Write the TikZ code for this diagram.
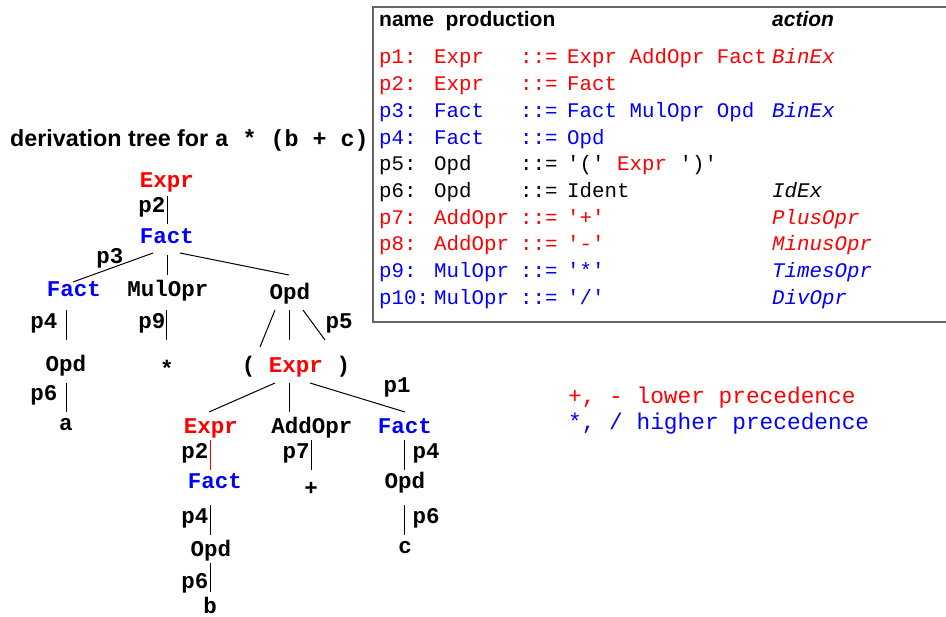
\documentclass[tikz,border=0pt]{standalone}
\usepackage{fontspec}
\setmainfont{Liberation Sans}
\setmonofont{Liberation Mono}
\begin{document}
\begin{tikzpicture}[x=1pt, y=-1pt,
    sym/.style={font=\fontsize{22.5}{24}\selectfont\ttfamily\bfseries, inner sep=0pt, text height=13pt, text depth=0pt},
    cell/.style={font=\fontsize{20.8}{22}\selectfont\ttfamily, inner sep=0pt, anchor=base west},
    head/.style={font=\fontsize{21}{23}\selectfont\bfseries, inner sep=0pt, anchor=base west},
    note/.style={font=\fontsize{22.8}{24}\selectfont\ttfamily, inner sep=0pt, anchor=base west},
    edge/.style={line width=1pt}]
    \useasboundingbox (0,0) rectangle (946,617);

    % Tabelle der Produktionen
    \draw[line width=1.3pt, black!60] (373,7) rectangle (952,322);
    \node[head] (hname) at (379,27) {name\ \ production};
    \node[head, font=\fontsize{21}{23}\selectfont\bfseries\itshape] (hact) at (772,27) {action};
    \foreach \nm/\lhs/\rhs/\act/\col [count=\i] in {
        p1:/Expr/Expr AddOpr Fact/BinEx/red,
        p2:/Expr/Fact//red,
        p3:/Fact/Fact MulOpr Opd/BinEx/blue,
        p4:/Fact/Opd//blue,
        p5:/Opd/{'(' \textcolor{red}{Expr} ')'}//black,
        p6:/Opd/Ident/IdEx/black,
        p7:/AddOpr/'+'/PlusOpr/red,
        p8:/AddOpr/'-'/MinusOpr/red,
        p9:/MulOpr/'*'/TimesOpr/blue,
        p10:/MulOpr/{'/'}/DivOpr/blue} {
        \node[cell, text=\col] (n\i) at (379,{64+26.67*(\i-1)}) {\nm};
        \node[cell, text=\col] (l\i) at (434,{64+26.67*(\i-1)}) {\lhs};
        \node[cell, text=\col] (d\i) at (520,{64+26.67*(\i-1)}) {::=};
        \node[cell, text=\col] (r\i) at (567,{64+26.67*(\i-1)}) {\rhs};
        \node[cell, text=\col, font=\fontsize{20.8}{22}\selectfont\ttfamily\itshape] (a\i) at (772,{64+26.67*(\i-1)}) {\act};
    }

    % Vorrang
    \node[note, red] (lower) at (568,404) {+, - lower precedence};
    \node[note, blue] (higher) at (568,430) {*, / higher precedence};

    % Titel
    \node[font=\fontsize{23.3}{25}\selectfont\bfseries, inner sep=0pt, anchor=base west] (title) at (10,147)
        {derivation tree for {\ttfamily a * (b + c)}};

    % Ableitungsbaum
    \node[sym, red] (e0) at (167,181) {Expr};
    \node[sym, blue] (f0) at (167,237) {Fact};
    \node[sym, blue] (f1) at (74,290) {Fact};
    \node[sym] (m1) at (168,290) {MulOpr};
    \node[sym] (o1) at (290,293) {Opd};
    \node[sym] (o2) at (66,365) {Opd};
    \node[sym] (st) at (167,370) {*};
    \node[sym] (pe) at (296,366) {( \textcolor{red}{Expr} )};
    \node[sym] (va) at (66,424) {a};
    \node[sym, red] (e2) at (211,427) {Expr};
    \node[sym] (ad) at (312,427) {AddOpr};
    \node[sym, blue] (f2) at (405,427) {Fact};
    \node[sym, blue] (f3) at (215,482) {Fact};
    \node[sym] (pl) at (311,489) {+};
    \node[sym] (o3) at (405,482) {Opd};
    \node[sym] (o4) at (211,550) {Opd};
    \node[sym] (vc) at (405,547) {c};
    \node[sym] (vb) at (210,607) {b};

    % Regelnamen an den Kanten
    \node[sym] (q1) at (152,206) {p2};
    \node[sym] (q2) at (110,257) {p3};
    \node[sym] (q3) at (44,322) {p4};
    \node[sym] (q4) at (152,322) {p9};
    \node[sym] (q5) at (339,322) {p5};
    \node[sym] (q6) at (44,394) {p6};
    \node[sym] (q7) at (397,386) {p1};
    \node[sym] (q8) at (195,452) {p2};
    \node[sym] (q9) at (296,452) {p7};
    \node[sym] (q10) at (426,452) {p4};
    \node[sym] (q11) at (195,517) {p4};
    \node[sym] (q12) at (426,517) {p6};
    \node[sym] (q13) at (195,582) {p6};

    % Kanten
    \draw[edge] ([shift={(0,15)}]e0.center) -- ([shift={(0,-13)}]f0.center);
    \draw[edge] ([shift={(-14,16)}]f0.center) -- ([shift={(-1,-8)}]f1.center);
    \draw[edge] ([shift={(0,18)}]f0.center) -- ([shift={(-1,-15)}]m1.center);
    \draw[edge] ([shift={(13,16)}]f0.center) -- ([shift={(-1,-18)}]o1.center);
    \draw[edge] ([shift={(-8,20)}]f1.center) -- ([shift={(0,-25)}]o2.center);
    \draw[edge] ([shift={(-2,20)}]m1.center) -- ([shift={(-1,-30)}]st.center);
    \draw[edge] ([shift={(-15,17)}]o1.center) -- ([shift={(-36,-19)}]pe.center);
    \draw[edge] ([shift={(-1,17)}]o1.center) -- ([shift={(-7,-26)}]pe.center);
    \draw[edge] ([shift={(13,17)}]o1.center) -- ([shift={(29,-26)}]pe.center);
    \draw[edge] ([shift={(0,18)}]o2.center) -- ([shift={(0,-12)}]va.center);
    \draw[edge] ([shift={(-21,17)}]pe.center) -- ([shift={(-2,-15)}]e2.center);
    \draw[edge] ([shift={(-7,17)}]pe.center) -- ([shift={(-23,-15)}]ad.center);
    \draw[edge] ([shift={(14,17)}]pe.center) -- ([shift={(0,-15)}]f2.center);
    \draw[edge, red] ([shift={(-1,13)}]e2.center) -- ([shift={(-5,-12)}]f3.center);
    \draw[edge] ([shift={(-1,13)}]ad.center) -- ([shift={(0,-19)}]pl.center);
    \draw[edge] ([shift={(-1,13)}]f2.center) -- ([shift={(-1,-12)}]o3.center);
    \draw[edge] ([shift={(-5,23)}]f3.center) -- ([shift={(-1,-15)}]o4.center);
    \draw[edge] ([shift={(-1,23)}]o3.center) -- ([shift={(-1,-12)}]vc.center);
    \draw[edge] ([shift={(-1,13)}]o4.center) -- ([shift={(0,-15)}]vb.center);
\end{tikzpicture}
\end{document}
